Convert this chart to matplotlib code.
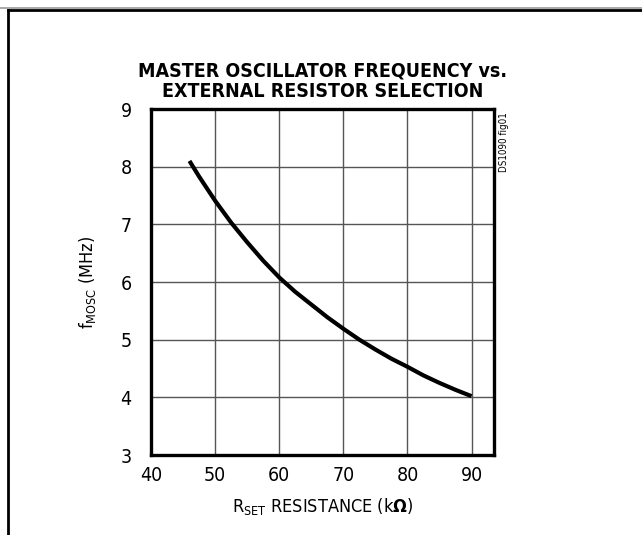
import matplotlib
matplotlib.use('Agg')
import matplotlib.pyplot as plt
from matplotlib.lines import Line2D

plt.rcParams['font.family'] = ['DejaVu Sans']
plt.rcParams['font.stretch'] = 'condensed'
plt.rcParams['mathtext.fontset'] = 'custom'
plt.rcParams['mathtext.rm'] = 'DejaVu Sans:stretch=condensed'
plt.rcParams['mathtext.it'] = 'DejaVu Sans:stretch=condensed'
plt.rcParams['mathtext.bf'] = 'DejaVu Sans:bold:stretch=condensed'

# data
rset = [46, 47.5, 50, 52.5, 55, 57.5, 60, 62.5, 65, 67.5, 70,
        72.5, 75, 77.5, 80, 82.5, 85, 87.5, 90]
fosc = [8.10, 7.83, 7.41, 7.03, 6.69, 6.37, 6.08, 5.83, 5.61, 5.39, 5.19,
        5.00, 4.83, 4.67, 4.53, 4.38, 4.25, 4.13, 4.02]
xticks = [40, 50, 60, 70, 80, 90]
yticks = [3, 4, 5, 6, 7, 8, 9]

fig = plt.figure(figsize=(6.42, 5.35), dpi=100)
ax = fig.add_axes([0.2352, 0.1495, 0.5343, 0.6467])

ax.plot(rset, fosc, color='black', lw=3, solid_capstyle='butt')

ax.set_xlim(40, 93.5)
ax.set_ylim(3, 9)
ax.set_xticks(xticks)
ax.set_yticks(yticks)
ax.grid(True, color='#555555', lw=1)
ax.tick_params(length=0, labelsize=14)
ax.tick_params(axis='y', pad=14)
ax.tick_params(axis='x', pad=8)
for s in ax.spines.values():
    s.set_linewidth(2.4)

ax.set_xlabel(r'R$_{\mathrm{SET}}$ RESISTANCE (k$\mathbf{\Omega}$)', fontsize=13, labelpad=8)
ax.set_ylabel(r'f$_{\mathrm{MOSC}}$ (MHz)', fontsize=13, labelpad=16)
ax.set_title('MASTER OSCILLATOR FREQUENCY vs.\nEXTERNAL RESISTOR SELECTION',
             fontsize=14, fontweight='bold', pad=9, linespacing=1.05)

ax.text(1.015, 0.99, 'DS1090 fig01', transform=ax.transAxes, rotation=90,
        fontsize=7, ha='left', va='top')

# outer frame (top and left only, as in the reference)
fig.add_artist(Line2D([0, 1], [1 - 7.5 / 535] * 2, color='#999999', lw=1.2,
                      transform=fig.transFigure))
fig.add_artist(Line2D([8 / 642, 1], [1 - 10 / 535] * 2, color='black', lw=2,
                      transform=fig.transFigure))
fig.add_artist(Line2D([8 / 642] * 2, [0, 1 - 10 / 535], color='black', lw=2,
                      transform=fig.transFigure))

fig.savefig('out.png', dpi=100)
